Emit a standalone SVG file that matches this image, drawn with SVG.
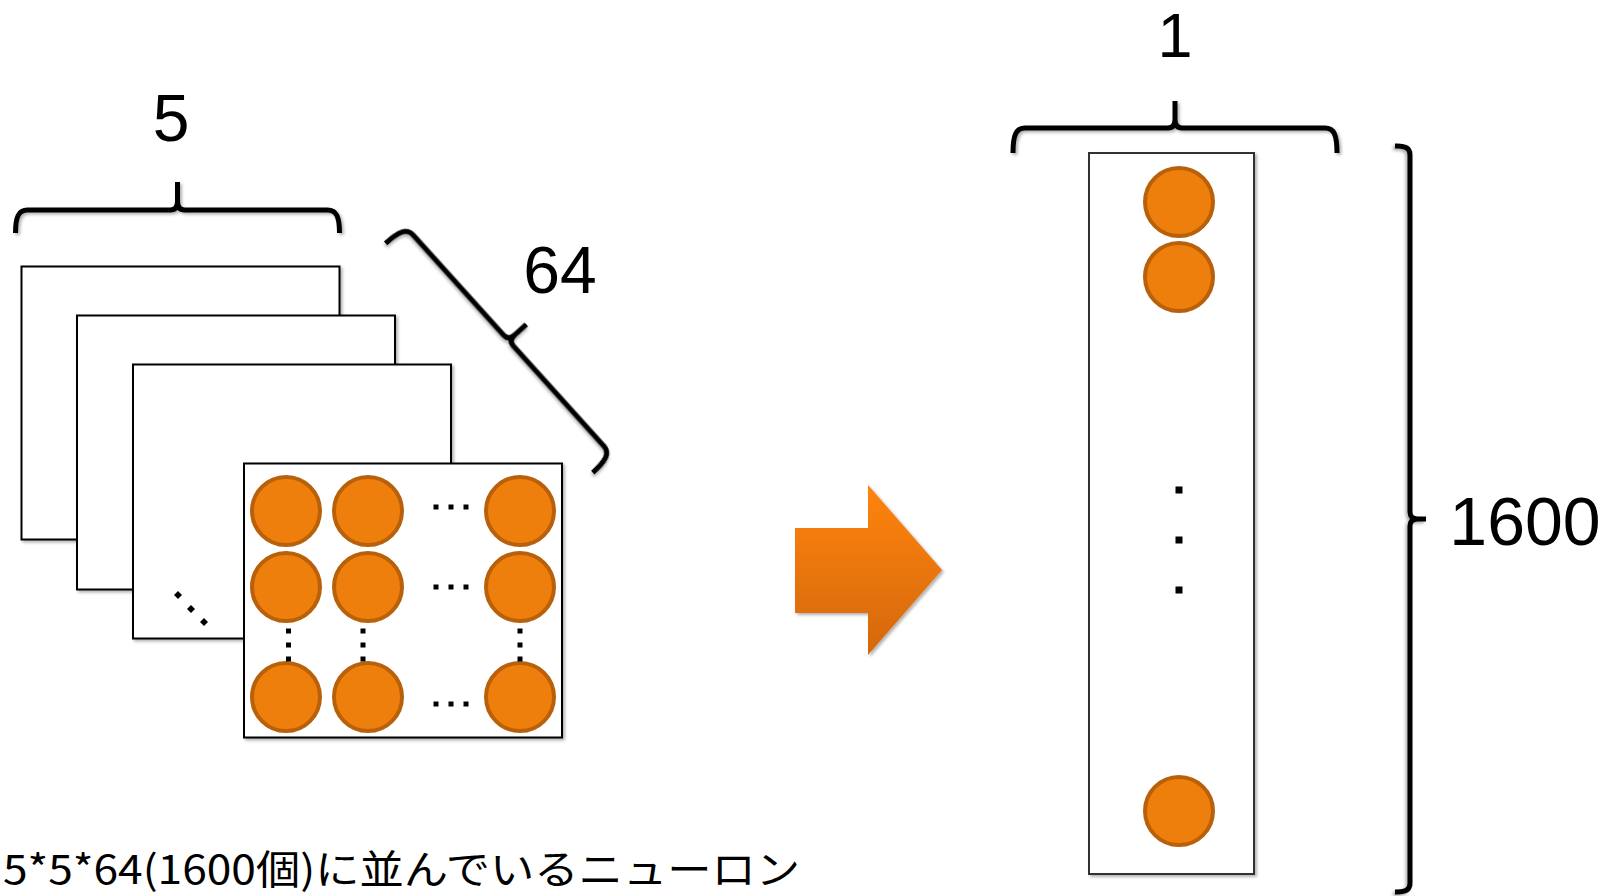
<svg xmlns="http://www.w3.org/2000/svg" width="1605" height="896" viewBox="0 0 1605 896">
<style>
.sheet{fill:#fff;stroke:#000;stroke-width:2;filter:url(#sh)}
.col{fill:#fff;stroke:#333;stroke-width:2;filter:url(#sh)}
.n{fill:#EF7F0C;stroke:#B8600A;stroke-width:4}
.brace{fill:none;stroke:#000;stroke-width:5;filter:url(#sh)}
.num{font-family:"Liberation Sans",Arial,sans-serif;fill:#000;text-anchor:middle}
.cap{font-family:"Noto Sans CJK JP","Noto Sans",sans-serif;fill:#000;font-size:40px}
</style>
<defs>
<filter id="sh" x="-10%" y="-10%" width="130%" height="130%">
<feDropShadow dx="2" dy="2" stdDeviation="1.5" flood-color="#000" flood-opacity="0.3"/>
</filter>
<linearGradient id="ag" x1="0" y1="0" x2="0" y2="1">
<stop offset="0" stop-color="#FF8407"/>
<stop offset="1" stop-color="#D4680C"/>
</linearGradient>
</defs>
<rect width="1605" height="896" fill="#fff"/>

<g id="sheets">
<rect id="sheetA" class="sheet" x="21.5" y="266.5" width="318" height="273"/>
<rect id="sheetB" class="sheet" x="77" y="315.5" width="318" height="274"/>
<rect id="sheetC" class="sheet" x="133" y="364.5" width="318" height="274"/>
<g id="diagDots" fill="#000">
<path d="M178,591 L182,595 L178,599 L174,595 Z"/>
<path d="M191,605 L195,609 L191,613 L187,609 Z"/>
<path d="M204,618 L208,622 L204,626 L200,622 Z"/>
</g>
<g id="sheetD">
<rect class="sheet" x="244" y="463.5" width="318" height="274"/>
<circle class="n" cx="286" cy="511" r="34"/>
<circle class="n" cx="368" cy="511" r="34"/>
<circle class="n" cx="520" cy="511" r="34"/>
<circle class="n" cx="286" cy="587" r="34"/>
<circle class="n" cx="368" cy="587" r="34"/>
<circle class="n" cx="520" cy="587" r="34"/>
<circle class="n" cx="286" cy="697" r="34"/>
<circle class="n" cx="368" cy="697" r="34"/>
<circle class="n" cx="520" cy="697" r="34"/>
<g fill="#000">
<rect x="433.5" y="504.5" width="5" height="5"/><rect x="448.5" y="504.5" width="5" height="5"/><rect x="463.5" y="504.5" width="5" height="5"/>
<rect x="433.5" y="584.5" width="5" height="5"/><rect x="448.5" y="584.5" width="5" height="5"/><rect x="463.5" y="584.5" width="5" height="5"/>
<rect x="433.5" y="701.5" width="5" height="5"/><rect x="448.5" y="701.5" width="5" height="5"/><rect x="463.5" y="701.5" width="5" height="5"/>
<rect x="286" y="628.5" width="5" height="5"/><rect x="286" y="642.5" width="5" height="5"/><rect x="286" y="656.5" width="5" height="5"/>
<rect x="360.5" y="628.5" width="5" height="5"/><rect x="360.5" y="642.5" width="5" height="5"/><rect x="360.5" y="656.5" width="5" height="5"/>
<rect x="517.5" y="628.5" width="5" height="5"/><rect x="517.5" y="642.5" width="5" height="5"/><rect x="517.5" y="656.5" width="5" height="5"/>
</g>
</g>
</g>

<g id="brace5">
<path class="brace" transform="translate(177.5,210)" d="M-162,23 C-162,7 -159,0 -150,0 L-7,0 C-2,0 0,-3 0,-9 L0,-28 M0,-9 C0,-3 2,0 7,0 L150,0 C159,0 162,7 162,23"/>
<text class="num" x="171" y="141" font-size="66">5</text>
</g>

<g id="brace64">
<path class="brace" transform="translate(508.5,340.5) rotate(47.9)" d="M-154.5,26 C-154.5,8 -151.5,0 -142.5,0 L-7,0 C-2,0 0,-3 0,-9 L0,-24 M0,-9 C0,-3 2,0 7,0 L142.5,0 C151.5,0 154.5,8 154.5,26"/>
<text class="num" x="560" y="293" font-size="66">64</text>
</g>

<g id="arrow">
<path d="M795,528 L868,528 L868,485 L942,570 L868,655 L868,613 L795,613 Z" fill="url(#ag)" filter="url(#sh)"/>
</g>

<g id="column">
<rect class="col" x="1089" y="153" width="165" height="721"/>
<circle class="n" cx="1179" cy="202" r="34"/>
<circle class="n" cx="1179" cy="277" r="34"/>
<circle class="n" cx="1179" cy="811" r="34"/>
<g fill="#000">
<rect x="1175.5" y="486.5" width="7" height="7"/>
<rect x="1175.5" y="536.5" width="7" height="7"/>
<rect x="1175.5" y="586.5" width="7" height="7"/>
</g>
</g>

<g id="brace1">
<path class="brace" transform="translate(1175,128)" d="M-162,25 C-162,7 -159,0 -150,0 L-7,0 C-2,0 0,-3 0,-9 L0,-27 M0,-9 C0,-3 2,0 7,0 L150,0 C159,0 162,7 162,25"/>
<text class="num" x="1175" y="57" font-size="63">1</text>
</g>

<g id="brace1600">
<path class="brace" transform="translate(1410,519) rotate(90)" d="M-373,15 C-373,4 -371,0 -364,0 L-7,0 C-2,0 0,-3 0,-8 L0,-16 M0,-8 C0,-3 2,0 7,0 L364,0 C371,0 373,4 373,15"/>
<text class="num" x="1525" y="545" font-size="68">1600</text>
</g>

<g id="caption">
<text class="cap" x="3" y="884" textLength="797" lengthAdjust="spacingAndGlyphs">5*5*64(1600個)に並んでいるニューロン</text>
</g>
</svg>
